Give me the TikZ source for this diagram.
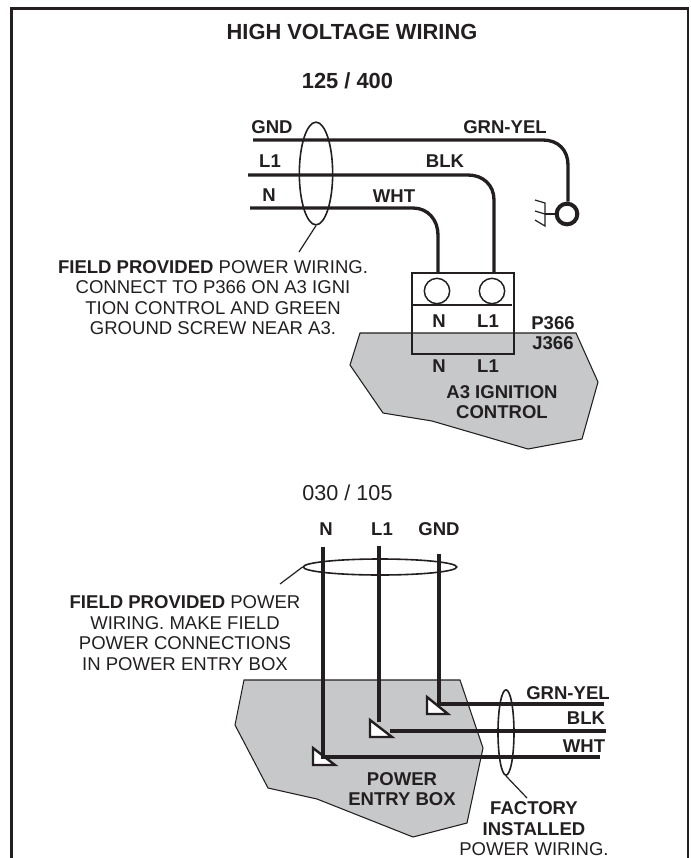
\documentclass[tikz,border=0pt]{standalone}
\usepackage{fontspec}
\setmainfont{Liberation Sans}
\usepackage{xcolor}
\usetikzlibrary{shapes, positioning}
\definecolor{inkdark}{HTML}{231F20}
\definecolor{boxgray}{HTML}{C7C8CA}
\tikzset{
    textnode/.style  = {draw=none, fill=none, rectangle, minimum size=0cm, inner sep = 0em,
      node distance=0em, text=inkdark, font=\fontsize{13.9}{15.4}\selectfont\bfseries},
    notenode/.style  = {textnode, font=\fontsize{13.9}{15.4}\selectfont},
    titlenode/.style = {textnode, font=\fontsize{16.4}{19}\selectfont\bfseries},
    circlenode/.style = {circle, draw=inkdark, inner sep = 0em, node distance=0em},
    ellipsenode/.style = {draw=inkdark, ellipse, inner sep = 0em, line width=1.2pt},
    rectanglenode/.style = {draw=inkdark, rectangle, inner sep = 0em, line width=1.1pt},
    wire/.style = {draw=inkdark, line width=2.5pt},
    thinline/.style = {draw=inkdark, line width=0.9pt},
    framing/.style = {draw=inkdark, line width=2.2pt},
    areashape/.style = {draw=inkdark, fill=boxgray, line width=0.8pt},
    lugmark/.style = {draw=inkdark, fill=white, line width=1.8pt},
    every text node part/.style={align=center}
}
\begin{document}
\begin{tikzpicture}[x=0.75pt, y=-0.75pt]
    \useasboundingbox (0,0) rectangle (691,858);

    % outer frame, open at the bottom
    \coordinate (framebl) at (11.5,858);
    \coordinate (frametl) at (11.5,8.5);
    \coordinate (frametr) at (688,8.5);
    \coordinate (framebr) at (688,858);
    \draw [framing] (framebl) -- (frametl) -- (frametr) -- (framebr);

    \node [name=title, titlenode] at (352,32) {HIGH VOLTAGE WIRING};
    \node [name=upperrange, titlenode, below of = title, xshift=-3.4pt, yshift=-36.75pt] {125 / 400};

    % upper diagram
    \draw [areashape] (360,333) -- (576,333) -- (598,382) -- (582,439) -- (528,449)
        -- (432,421) -- (383,413) -- (350,365) -- cycle;

    \node [name=conbox, rectanglenode, minimum width=76.5pt, minimum height=60.75pt] at (463,313.5) {};
    \coordinate (divleft) at (412,305);
    \coordinate (divright) at (512,305);
    \draw [thinline] (divleft) -- (divright);
    \node [name=termn, circlenode, minimum size=19pt, line width=1.1pt] at (437,291) {};
    \node [name=terml, circlenode, minimum size=19pt, line width=1.1pt] at (492,291) {};

    \node [name=groundring, circlenode, minimum size=15.5pt, line width=3pt] at (567,214) {};
    \coordinate (groundbar) at (545,214);
    \coordinate (bartop) at (545,203);
    \coordinate (barbot) at (545,226);
    \coordinate (tinea) at (535,200);
    \coordinate (tineb) at (535,211);
    \coordinate (tinec) at (535,220);
    \draw [thinline] (groundring) -- (groundbar);
    \draw [thinline] (tinea) -- (bartop) -- (barbot) -- (tinec);
    \draw [thinline] (tineb) -- (groundbar);

    \coordinate (gndstart) at (253,140);
    \coordinate (gndbend) at (543,140);
    \coordinate (gndturn) at (568,165);
    \coordinate (lonestart) at (248,175);
    \coordinate (lonebend) at (468,175);
    \coordinate (loneturn) at (494,200);
    \coordinate (nstart) at (250,208);
    \coordinate (nbend) at (413,208);
    \coordinate (nturn) at (438,235);
    \draw [wire] (gndstart) -- (gndbend) .. controls +(15,0) and +(0,-15) .. (gndturn) -- (gndturn |- groundring.north);
    \draw [wire] (lonestart) -- (lonebend) .. controls +(15,0) and +(0,-15) .. (loneturn) -- (loneturn |- conbox.north);
    \draw [wire] (nstart) -- (nbend) .. controls +(15,0) and +(0,-15) .. (nturn) -- (nturn |- conbox.north);

    \node [name=upperbundle, ellipsenode, minimum width=25pt, minimum height=77pt] at (316,173.5) {};
    \coordinate (upperlead) at (299,252);
    \draw [thinline] (upperbundle.south) -- (upperlead);

    \node [name=gndtext, textnode] at (272,127) {GND};
    \node [name=lonetext, textnode] at (270,161) {L1};
    \node [name=ntext, textnode] at (269,195) {N};
    \node [name=whttext, textnode] at (394,196) {WHT};
    \node [name=blktext, textnode] at (445,161) {BLK};
    \node [name=grntext, textnode] at (505,127) {GRN-YEL};

    \node [name=plugn, textnode] at (439,321) {N};
    \node [name=plugl, textnode] at (488,321) {L1};
    \node [name=jackn, textnode, below of = plugn, yshift=-33.75pt] {N};
    \node [name=jackl, textnode, below of = plugl, yshift=-33.75pt] {L1};
    \node [name=ptext, textnode] at (553,323) {P366};
    \node [name=jtext, textnode, below of = ptext, yshift=-15pt] {J366};
    \node [name=ignition, textnode] at (502,402) {A3 IGNITION\\CONTROL};

    \node [name=uppernote, notenode] at (213,297.5) {\textbf{FIELD PROVIDED} POWER WIRING.\\
        CONNECT TO P366 ON A3 IGNI\\TION CONTROL AND GREEN\\GROUND SCREW NEAR A3.};

    % lower diagram
    \node [name=lowerrange, notenode, font=\fontsize{16.2}{19}\selectfont] at (347.5,493) {030 / 105};

    \draw [areashape] (244,680) -- (460,680) -- (483,748) -- (467,823) -- (413,837)
        -- (317,799) -- (268,788) -- (235,725) -- cycle;

    \coordinate (lugn) at (313,748);
    \coordinate (lugl) at (370,720);
    \coordinate (lugg) at (427,697);
    \draw [lugmark] (lugn) -- ++(0,17) -- ++(22,0) -- cycle;
    \draw [lugmark] (lugl) -- ++(0,17) -- ++(22,0) -- cycle;
    \draw [lugmark] (lugg) -- ++(0,17) -- ++(21,0) -- cycle;

    \coordinate (ntop) at (323,547);
    \coordinate (ncorner) at (323,757);
    \coordinate (nend) at (600,757);
    \coordinate (ltop) at (379,546);
    \coordinate (lbot) at (379,722);
    \coordinate (lstart) at (390,731);
    \coordinate (lend) at (606,731);
    \coordinate (gtop) at (439,554);
    \coordinate (gcorner) at (439,704);
    \coordinate (gend) at (604,704);
    \draw [wire] (ntop) -- (ncorner) -- (nend);
    \draw [wire] (ltop) -- (lbot);
    \draw [wire] (lstart) -- (lend);
    \draw [wire] (gtop) -- (gcorner) -- (gend);

    \node [name=topbundle, ellipsenode, minimum width=115pt, minimum height=12pt] at (380,567) {};
    \coordinate (toplead) at (280,584);
    \draw [thinline] (topbundle.west) -- (toplead);

    \node [name=sidebundle, ellipsenode, minimum width=12pt, minimum height=64pt] at (506,732.5) {};
    \coordinate (sidelead) at (527,798);
    \draw [thinline] (sidebundle.south) -- (sidelead);

    \node [name=ntoptext, textnode] at (326,529) {N};
    \node [name=ltoptext, textnode] at (382,529) {L1};
    \node [name=gtoptext, textnode] at (439,529) {GND};
    \node [name=grnside, textnode] at (568,693) {GRN-YEL};
    \node [name=blkside, textnode] at (586,718) {BLK};
    \node [name=whtside, textnode] at (584,746) {WHT};
    \node [name=entrybox, textnode] at (402,789) {POWER\\ENTRY BOX};

    \node [name=lowernote, notenode] at (185,633) {\textbf{FIELD PROVIDED} POWER\\
        WIRING. MAKE FIELD\\POWER CONNECTIONS\\IN POWER ENTRY BOX};
    \node [name=factorynote, notenode] at (534,829) {\textbf{FACTORY}\\\textbf{INSTALLED}\\POWER WIRING.};
\end{tikzpicture}
\end{document}
